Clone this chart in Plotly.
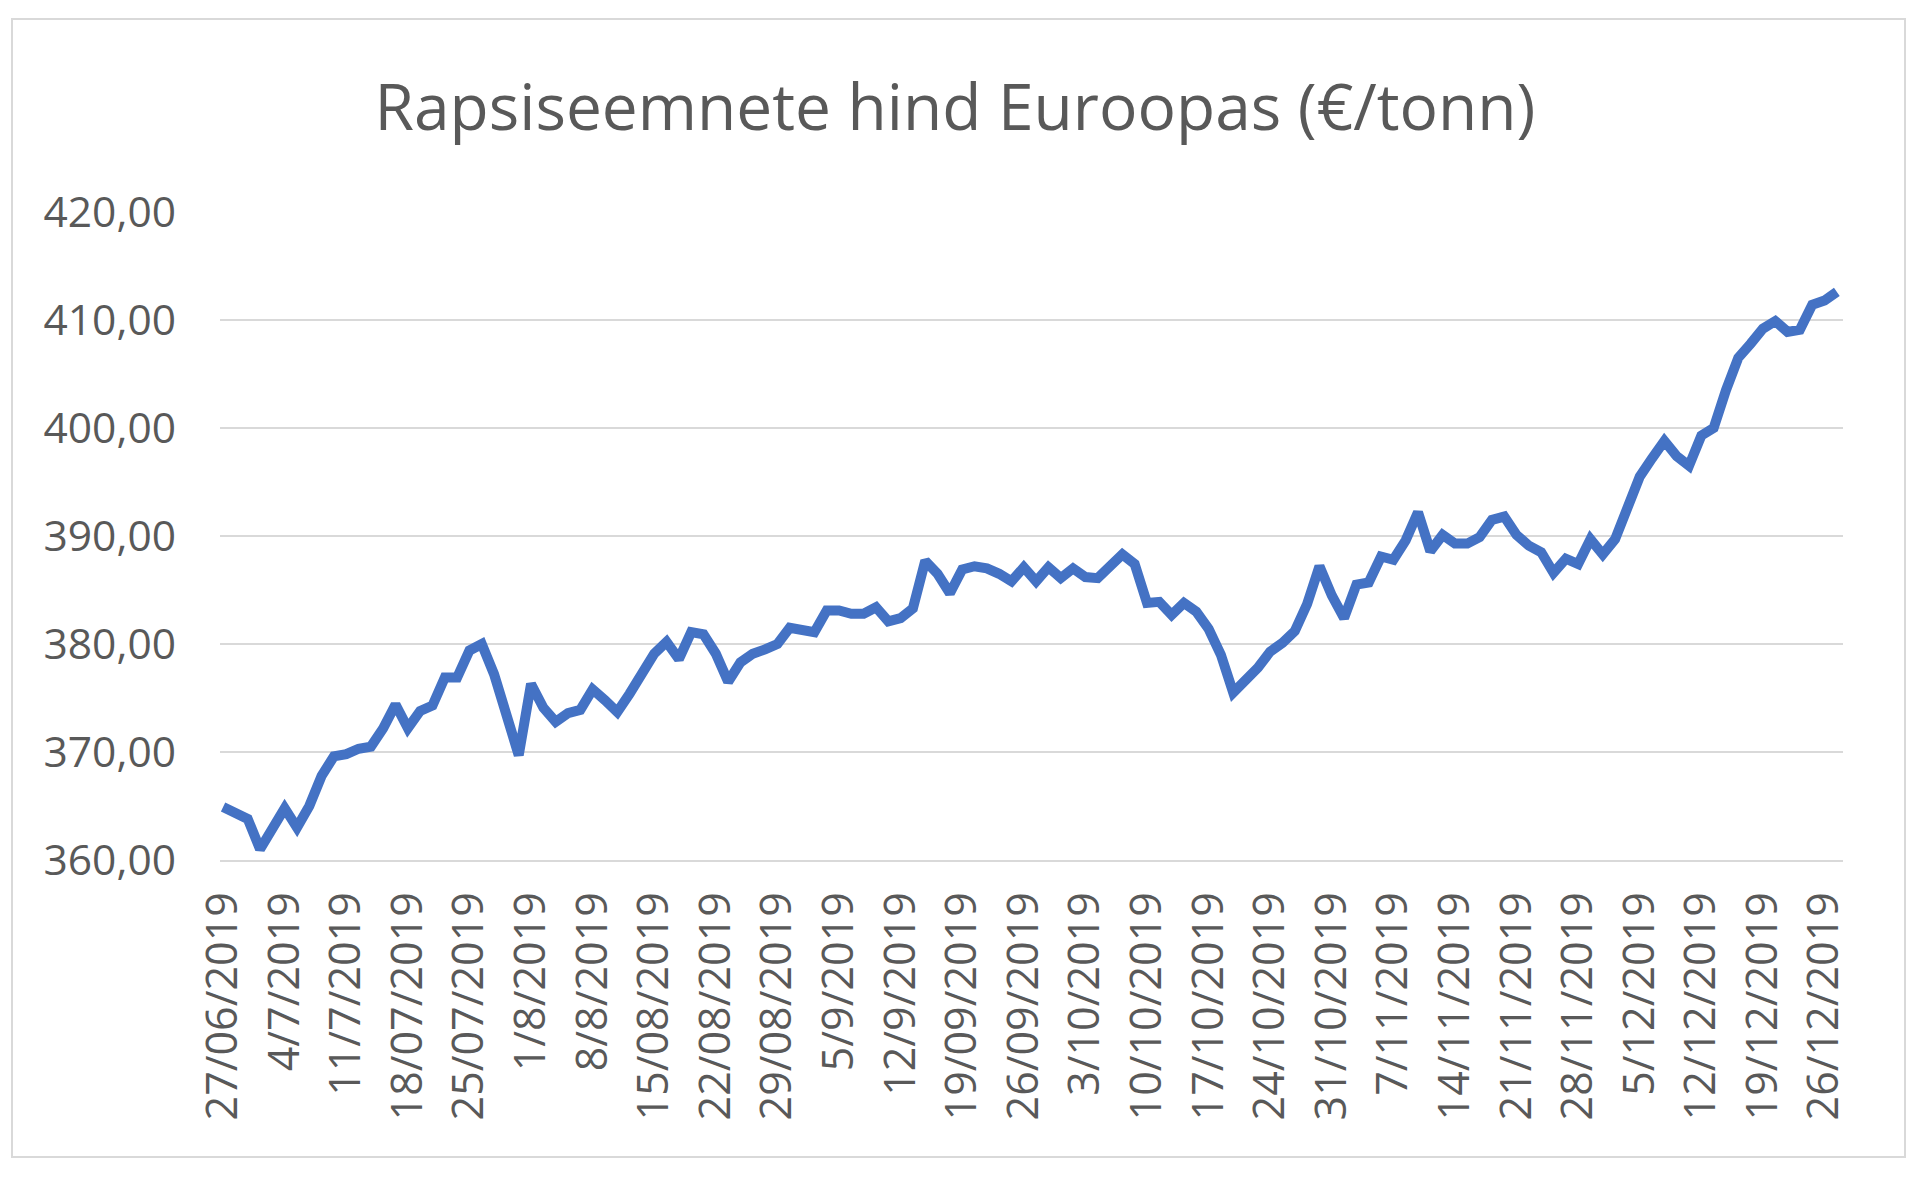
import pandas as pd
import plotly.graph_objects as go

# Trading days (weekdays) 27/06/2019 .. 27/12/2019
dates = [d.strftime("%Y-%m-%d") for d in pd.bdate_range("2019-06-27", "2019-12-27")]

prices = [
    364.9, 364.4, 363.8, 361.0, 363.1, 364.8, 363.0, 365.0, 367.8, 369.6,
    369.8, 370.3, 370.5, 372.2, 374.4, 372.2, 373.8, 374.3, 376.9, 376.9,
    379.4, 380.0, 377.2, 373.1, 369.7, 376.3, 374.1, 372.8, 373.6, 373.9,
    375.8, 374.8, 373.7, 375.4, 377.4, 379.1, 380.2, 378.6, 381.1, 380.9,
    379.1, 376.5, 378.3, 379.1, 379.5, 380.0, 381.5, 381.4, 381.1, 383.1,
    383.1, 382.8, 382.8, 383.4, 382.1, 382.4, 383.3, 387.7, 386.5, 384.7,
    386.9, 387.2, 387.0, 386.5, 385.8, 387.1, 385.8, 387.1, 386.1, 387.0,
    386.2, 386.1, 387.3, 388.3, 387.4, 383.8, 383.9, 382.7, 383.8, 383.0,
    381.4, 379.0, 375.5, 376.6, 377.8, 379.3, 380.1, 381.2, 383.7, 387.2,
    384.5, 382.4, 385.5, 385.7, 388.1, 387.8, 389.6, 392.2, 388.6, 390.1,
    389.3, 389.3, 389.9, 391.5, 391.8, 390.1, 389.1, 388.5, 386.6, 387.9,
    387.4, 389.7, 388.3, 389.7, 392.9, 395.5, 397.2, 398.8, 397.4, 396.5,
    399.3, 400.0, 403.5, 406.5, 407.8, 409.2, 409.9, 408.9, 409.1, 411.4,
    411.8, 412.6,
]

tick_labels = [
    "27/06/2019", "4/7/2019", "11/7/2019", "18/07/2019", "25/07/2019",
    "1/8/2019", "8/8/2019", "15/08/2019", "22/08/2019", "29/08/2019",
    "5/9/2019", "12/9/2019", "19/09/2019", "26/09/2019", "3/10/2019",
    "10/10/2019", "17/10/2019", "24/10/2019", "31/10/2019", "7/11/2019",
    "14/11/2019", "21/11/2019", "28/11/2019", "5/12/2019", "12/12/2019",
    "19/12/2019", "26/12/2019",
]
tick_vals = dates[0:len(dates):5][:len(tick_labels)]

title_text = "Rapsiseemnete hind Euroopas (€/tonn)"

# page body has an 8px margin; the figure is sized and placed to compensate
OFF = 8
W, H = 1920 - 2 * OFF, 1179 - 2 * OFF
ml = 220 - OFF
plot_right = 1843 - OFF
mr = W - plot_right
mt = 212 - OFF
plot_bottom = 860 - OFF
mb = H - plot_bottom
pw, ph = W - ml - mr, H - mt - mb


def px(x):
    return (x - OFF - ml) / pw


def py(y):
    return (plot_bottom - (y - OFF)) / ph


fig = go.Figure()
fig.add_trace(go.Scatter(
    x=dates, y=prices, mode="lines",
    line=dict(color="#4472C4", width=10, shape="linear"),
    showlegend=False, hoverinfo="x+y",
))

FONT = "Open Sans, Liberation Sans, sans-serif"

fig.update_layout(
    width=W, height=H,
    margin=dict(l=ml, r=mr, t=mt, b=mb, pad=0),
    paper_bgcolor="white", plot_bgcolor="white",
    separators=", ",
    font=dict(family=FONT, color="#595959"),
    title=dict(text=title_text, x=(955 - OFF) / W, xanchor="center",
               y=1 - (108 - OFF) / H, yanchor="middle",
               xref="container", yref="container",
               font=dict(size=64, color="#595959", family=FONT)),
    xaxis=dict(type="category", range=[-0.25, len(dates) - 0.5],
               tickmode="array", tickvals=tick_vals, ticktext=tick_labels,
               tickangle=-90, tickfont=dict(size=43, color="#595959"),
               showgrid=False, showline=True, linecolor="#D9D9D9", linewidth=2,
               ticks="", ticklabelstandoff=13, zeroline=False),
    yaxis=dict(range=[360, 420], tickmode="linear", tick0=360, dtick=10,
               tickformat=".2f", tickfont=dict(size=42.5, color="#595959"),
               showgrid=True, gridcolor="#D9D9D9", gridwidth=2,
               showline=False, ticks="", ticklabelstandoff=43, zeroline=False),
    shapes=[dict(type="rect", xref="paper", yref="paper",
                 x0=px(12), x1=px(1905), y0=py(1157), y1=py(19),
                 line=dict(color="#D9D9D9", width=2), fillcolor="rgba(0,0,0,0)",
                 layer="below")],
)

fig.write_html("out.html")
